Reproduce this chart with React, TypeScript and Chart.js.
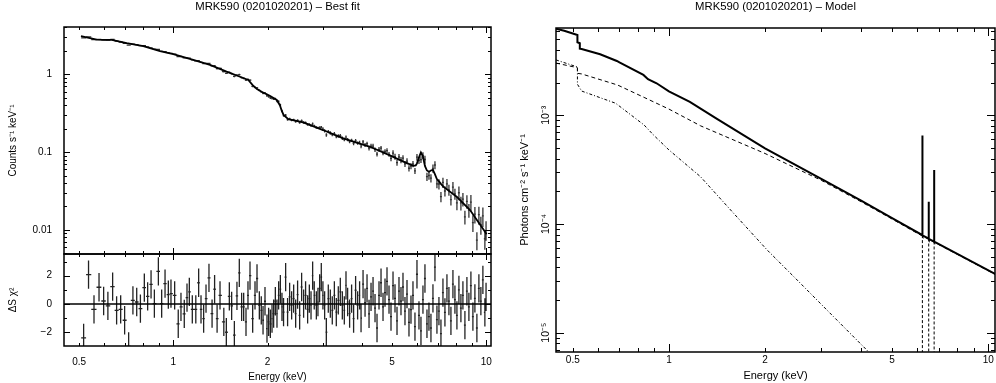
import React, { useEffect, useRef } from "react";
import { Chart, registerables } from "chart.js";

Chart.register(...registerables);

const FONT = "'Liberation Sans', Arial, Helvetica, sans-serif";

// ---------- Left panel: folded spectrum (counts) and residuals ----------
const energy = [
  0.517, 0.536, 0.558, 0.579, 0.599, 0.618, 0.640, 0.659, 0.679, 0.699, 0.720, 0.743, 0.764, 0.785, 0.808, 0.828,
  0.849, 0.870, 0.896, 0.918, 0.941, 0.964, 0.983, 1.010, 1.037, 1.058, 1.084, 1.106, 1.125, 1.150, 1.180, 1.205,
  1.226, 1.250, 1.272, 1.300, 1.330,
  1.355, 1.380, 1.410, 1.450, 1.477, 1.510, 1.536, 1.567, 1.597, 1.625, 1.653, 1.678, 1.707, 1.732, 1.758, 1.793,
  1.824, 1.851, 1.883, 1.910, 1.935, 1.963, 1.992, 2.016, 2.042, 2.067, 2.092, 2.118, 2.144, 2.170, 2.198, 2.224,
  2.250, 2.285, 2.318, 2.353, 2.388, 2.424, 2.460, 2.495, 2.533, 2.570, 2.608, 2.646, 2.686, 2.720, 2.754, 2.787,
  2.820, 2.864, 2.898, 2.934, 2.970, 3.006, 3.044, 3.082, 3.127, 3.174, 3.220, 3.270, 3.317, 3.366, 3.416, 3.467,
  3.518, 3.562, 3.605, 3.658, 3.712, 3.767, 3.823, 3.880, 3.937,
  3.979, 4.038, 4.098, 4.158, 4.220, 4.282, 4.346, 4.410, 4.475, 4.541, 4.609, 4.677, 4.746, 4.816, 4.888, 4.960,
  5.034, 5.108, 5.184, 5.260, 5.338, 5.417, 5.497, 5.579, 5.661, 5.745, 5.830, 5.916, 6.004, 6.093, 6.183, 6.274,
  6.367, 6.462, 6.557, 6.654, 6.753, 6.853, 6.954, 7.057, 7.162, 7.268, 7.375, 7.485, 7.595, 7.708, 7.822, 7.938,
  8.055, 8.174, 8.295, 8.418, 8.543, 8.669, 8.797, 8.928, 9.060, 9.194, 9.330, 9.468, 9.608, 9.750, 9.894, 9.980,
];

const counts = [
  2.93, 3.02, 2.79, 2.81, 2.77, 2.75, 2.80, 2.66, 2.60, 2.50, 2.37, 2.44, 2.40, 2.33, 2.33, 2.24,
  2.19, 2.10, 2.09, 1.97, 1.96, 1.90, 1.86, 1.81, 1.69, 1.69, 1.63, 1.62, 1.61, 1.53, 1.49, 1.50,
  1.42, 1.37, 1.38, 1.38, 1.28,
  1.28, 1.18, 1.19, 1.08, 1.03, 1.06, 1.02, 0.94, 0.976, 0.99, 0.907, 0.886, 0.840, 0.861, 0.84, 0.70,
  0.68, 0.67, 0.62, 0.593, 0.568, 0.573, 0.529, 0.516, 0.499, 0.491, 0.483, 0.483, 0.454, 0.449, 0.404, 0.338,
  0.294, 0.299, 0.262, 0.267, 0.258, 0.259, 0.247, 0.256, 0.239, 0.253, 0.240, 0.239, 0.226, 0.2276, 0.2197, 0.2316,
  0.217, 0.2068, 0.2047, 0.2075, 0.2092, 0.1983, 0.1875, 0.1661, 0.1835, 0.1759, 0.1677, 0.1722, 0.1586, 0.1614, 0.1621, 0.1509,
  0.1452, 0.1558, 0.145, 0.1366, 0.1414, 0.1291, 0.1402, 0.1305, 0.1328,
  0.1195, 0.1353, 0.1232, 0.1282, 0.1123, 0.1195, 0.1196, 0.1074, 0.0942, 0.1086, 0.1122, 0.0976, 0.1019, 0.1045, 0.0935, 0.0828,
  0.0970, 0.0874, 0.0732, 0.0864, 0.0791, 0.0838, 0.0705, 0.0764, 0.0620, 0.0660, 0.0703, 0.0574, 0.0859, 0.0782, 0.0802, 0.0906,
  0.0803, 0.0483, 0.0500, 0.0462, 0.0618, 0.0682, 0.0391, 0.0389, 0.0267, 0.0407, 0.0316, 0.0390, 0.0327, 0.0245, 0.0355, 0.0291,
  0.0223, 0.0300, 0.0222, 0.0249, 0.0147, 0.0233, 0.0179, 0.0227, 0.0124, 0.0159, 0.0074, 0.0157, 0.0117, 0.0151, 0.0077, 0.0101,
];

const countsRelErr = [
  0.015, 0.015, 0.015, 0.015, 0.015, 0.015, 0.015, 0.015, 0.015, 0.015, 0.015, 0.015, 0.015, 0.015, 0.015, 0.015,
  0.015, 0.015, 0.015, 0.015, 0.015, 0.015, 0.015, 0.02, 0.02, 0.02, 0.02, 0.02, 0.02, 0.02, 0.02, 0.02,
  0.02, 0.02, 0.02, 0.02, 0.02,
  0.025, 0.025, 0.025, 0.025, 0.025, 0.025, 0.025, 0.025, 0.025, 0.025, 0.025, 0.025, 0.025, 0.025, 0.025, 0.025,
  0.025, 0.025, 0.025, 0.025, 0.025, 0.025, 0.025, 0.035, 0.035, 0.035, 0.035, 0.035, 0.035, 0.035, 0.035, 0.035,
  0.035, 0.035, 0.035, 0.035, 0.035, 0.035, 0.035, 0.035, 0.035, 0.035, 0.035, 0.035, 0.035, 0.035, 0.035, 0.035,
  0.035, 0.035, 0.035, 0.035, 0.035, 0.05, 0.05, 0.05, 0.05, 0.05, 0.05, 0.05, 0.05, 0.05, 0.05, 0.05,
  0.05, 0.05, 0.05, 0.05, 0.05, 0.05, 0.05, 0.05, 0.05,
  0.06, 0.06, 0.06, 0.06, 0.07, 0.07, 0.07, 0.07, 0.07, 0.07, 0.07, 0.07, 0.07, 0.07, 0.07, 0.08,
  0.09, 0.09, 0.09, 0.09, 0.09, 0.09, 0.09, 0.09, 0.09, 0.09, 0.09, 0.09, 0.10, 0.10, 0.10, 0.10,
  0.12, 0.12, 0.12, 0.12, 0.12, 0.12, 0.12, 0.15, 0.15, 0.15, 0.15, 0.16, 0.16, 0.16, 0.16, 0.16,
  0.20, 0.20, 0.20, 0.20, 0.20, 0.20, 0.20, 0.24, 0.24, 0.24, 0.26, 0.26, 0.26, 0.28, 0.28, 0.28,
];

const resid = [
  -2.4, 2.07, -0.38, 1.18, 0.21, -0.14, 1.22, -0.45, -0.38, -1.15, -3.0, 0.26, 0.14, -0.33, 1.15, 0.54,
  1.39, 0.02, 2.3, 0.02, 1.44, 0.66, 0.73, 0.6, -1.4, -0.2, -0.7, 0.45, 0.85, -0.38, -0.38, 1.5,
  -0.38, -1.04, 0.38, 1.84, -0.68,
  1.04, -1.04, 0.6, -1.27, -2.0, 0.54, -0.14, -2.2, 0.57, 2.2, -0.2, -0.2, -1.27, 0.6, 2.0, -1.04,
  0.6, 1.8, -0.1, -0.45, -1.15, 0.19, -1.74, -1.27, -1.4, -1.04, -0.68, 0.19, -0.68, 0.6, 1.04, -0.2,
  -0.57, 1.9, -0.57, 0.5, -0.1, 0.38, -0.68, 0.66, -0.8, 1.2, 0.02, 0.6, -0.38, 0.38, -0.1, 2.0,
  0.6, -0.1, 0.14, 1.1, 1.9, 0.6, -0.1, -2.0, 0.38, 0.02, -0.45, 0.6, -0.57, 0.26, 0.85, -0.1,
  -0.45, 1.32, 0.14, -0.68, 0.38, -1.04, 0.97, -0.1, 0.6,
  -1.0, 1.4, 0.1, 1.1, -0.7, 0.5, 0.9, -0.3, -1.7, 0.6, 1.5, -0.2, 0.8, 1.6, 0.3, -0.9,
  1.3, 0.4, -1.2, 0.9, 0.2, 1.2, -0.5, 0.7, -1.3, -0.4, 0.6, -1.6, 2.1, -0.8, -1.9, 0.3,
  1.8, -1.4, -0.9, -1.7, 0.4, 2.6, -1.1, -0.5, -2.1, 0.8, -0.6, 1.1, 0.2, -1.2, 1.4, 0.3,
  -0.8, 1.0, -0.3, 0.6, -1.5, 0.9, -0.2, 1.3, -0.9, 0.4, -1.7, 1.1, 0.2, 1.7, -0.6, 0.5,
];
const residSigma = 1;

// folded best-fit model curve
const modelE = [
  0.507, 0.542, 0.569, 0.60, 0.636, 0.71, 0.802, 0.907, 1.0, 1.158, 1.31, 1.48, 1.633, 1.736, 1.79, 1.85,
  1.94, 2.04, 2.14, 2.19, 2.22, 2.25, 2.33, 2.60, 3.01, 3.49, 4.25, 4.92, 5.43, 5.85, 5.95, 6.0,
  6.09, 6.18, 6.27, 6.37, 6.46, 6.56, 6.65, 6.75, 6.85, 6.95, 7.06, 7.16, 7.29, 8.04, 8.87, 9.78, 10.02,
];
const modelCounts = [
  3.10, 2.92, 2.78, 2.76, 2.76, 2.51, 2.30, 1.99, 1.81, 1.53, 1.32, 1.08, 0.93, 0.845, 0.73, 0.645,
  0.58, 0.526, 0.467, 0.40, 0.34, 0.30, 0.265, 0.241, 0.192, 0.150, 0.117, 0.0906, 0.0753, 0.0664, 0.0675, 0.071,
  0.085, 0.099, 0.088, 0.066, 0.058, 0.056, 0.058, 0.059, 0.052, 0.045, 0.042, 0.039, 0.0359, 0.0267, 0.018, 0.0102, 0.0088,
];

// ---------- Right panel: unfolded model ----------
const totalE = [
  0.443, 0.47, 0.50, 0.517, 0.517, 0.526, 0.526, 0.533, 0.609, 0.687, 0.70, 0.832, 0.86, 0.915, 1.0, 1.163,
  1.41, 2.0, 3.0, 4.0, 5.0, 6.215, 6.22, 6.225, 6.505, 6.51, 6.515, 6.765, 6.77, 6.775, 8.0, 10.5,
];
const totalFlux = [
  6.25e-3, 6.0e-3, 5.65e-3, 5.48e-3, 4.69e-3, 4.6e-3, 4.1e-3, 4.07e-3, 3.64e-3, 3.16e-3, 3.06e-3, 2.35e-3, 2.15e-3, 1.97e-3, 1.66e-3, 1.33e-3,
  9.3e-4, 4.97e-4, 2.6e-4, 1.64e-4, 1.13e-4, 7.9e-5, 6.5e-4, 7.85e-5, 7.35e-5, 1.6e-4, 7.3e-5, 6.9e-5, 3.14e-4, 6.87e-5, 5.3e-5, 3.47e-5,
];
const powerlawE = [0.443, 0.517, 0.517, 0.533, 0.69, 0.836, 1.0, 1.256, 2.0, 3.0, 4.0, 5.0, 6.0, 8.0, 10.5];
const powerlawFlux = [3.02e-3, 2.74e-3, 2.43e-3, 2.40e-3, 1.9e-3, 1.46e-3, 1.14e-3, 8.0e-4, 4.45e-4, 2.52e-4, 1.6e-4, 1.11e-4, 8.2e-5, 5.25e-5, 3.44e-5];
const softE = [0.443, 0.517, 0.517, 0.533, 0.681, 0.836, 0.894, 1.0, 1.256, 1.596, 2.03, 2.58, 3.28, 4.17, 4.6];
const softFlux = [3.23e-3, 2.78e-3, 1.93e-3, 1.67e-3, 1.29e-3, 8.14e-4, 6.6e-4, 4.8e-4, 2.72e-4, 1.25e-4, 5.77e-5, 2.85e-5, 1.4e-5, 6.9e-6, 5.0e-6];
const lineE = [6.22, 6.51, 6.77];
const lineFlux = [7.9e-5, 7.35e-5, 6.9e-5];
const lineFloor = 1e-7;

// ---------- Ticks ----------
const xTickValues = [0.5, 1, 2, 5, 10];
const xTickText = ["0.5", "1", "2", "5", "10"];
const xMajorTicks = [1, 10];
const xMinorTicks = [0.5, 0.6, 0.7, 0.8, 0.9, 2, 3, 4, 5, 6, 7, 8, 9];
const countsTickValues = [0.01, 0.1, 1];
const countsTickText = ["0.01", "0.1", "1"];
const countsMinorTicks = [
  0.005, 0.006, 0.007, 0.008, 0.009, 0.02, 0.03, 0.04, 0.05, 0.06, 0.07, 0.08, 0.09,
  0.2, 0.3, 0.4, 0.5, 0.6, 0.7, 0.8, 0.9, 2, 3, 4,
];
const residTickValues = [-2, 0, 2];
const residTickText = ["\u22122", "0", "2"];
const residMinorTicks = [-3, -1, 1, 3];
const fluxTickValues = [1e-5, 1e-4, 1e-3];
const fluxTickText = ["10\u207B\u2075", "10\u207B\u2074", "10\u207B\u00B3"];
const fluxMinorTicks = [
  7e-6, 8e-6, 9e-6, 2e-5, 3e-5, 4e-5, 5e-5, 6e-5, 7e-5, 8e-5, 9e-5,
  2e-4, 3e-4, 4e-4, 5e-4, 6e-4, 7e-4, 8e-4, 9e-4, 2e-3, 3e-3, 4e-3, 5e-3, 6e-3,
];

// ---------- helpers ----------
function binEdges(i: number): [number, number] {
  const e = energy[i];
  const lo = i > 0 ? Math.sqrt(energy[i - 1] * e) : e * Math.sqrt(e / energy[i + 1]);
  const hi = i < energy.length - 1 ? Math.sqrt(e * energy[i + 1]) : e * Math.sqrt(e / energy[i - 1]);
  return [lo, hi];
}

type FrameCfg = {
  xMajor: number[];
  xMinor: number[];
  yMajor: number[];
  yMinor: number[];
  majorLen: number;
  minorLen: number;
  zeroLine?: boolean;
  rotLabels?: { values: number[]; texts: string[]; offset: number; size: number };
};

function makeFramePlugin(cfg: FrameCfg) {
  return {
    id: "xspecFrame",
    beforeDatasetsDraw(chart: any) {
      const { ctx, chartArea: a } = chart;
      const xs = chart.scales.x;
      const ys = chart.scales.y;
      ctx.save();
      ctx.beginPath();
      ctx.rect(a.left, a.top, a.right - a.left, a.bottom - a.top);
      ctx.clip();
      for (const ds of chart.data.datasets as any[]) {
        if (!ds.errorBars) continue;
        ctx.strokeStyle = ds.errorColor;
        ctx.lineWidth = ds.errorWidth;
        ctx.beginPath();
        for (const p of ds.data) {
          const px = xs.getPixelForValue(p.x);
          const py = ys.getPixelForValue(p.y);
          ctx.moveTo(xs.getPixelForValue(p.xLo), py);
          ctx.lineTo(xs.getPixelForValue(p.xHi), py);
          ctx.moveTo(px, ys.getPixelForValue(p.yLo));
          ctx.lineTo(px, ys.getPixelForValue(p.yHi));
        }
        ctx.stroke();
      }
      ctx.restore();
    },
    afterDraw(chart: any) {
      const { ctx, chartArea: a } = chart;
      const xs = chart.scales.x;
      const ys = chart.scales.y;
      ctx.save();
      ctx.strokeStyle = "#000";
      if (cfg.zeroLine) {
        const py = ys.getPixelForValue(0);
        ctx.lineWidth = 1.5;
        ctx.beginPath();
        ctx.moveTo(a.left, py);
        ctx.lineTo(a.right, py);
        ctx.stroke();
      }
      ctx.lineWidth = 1;
      ctx.beginPath();
      const xt = (vals: number[], len: number) =>
        vals.forEach((v) => {
          if (v < xs.min || v > xs.max) return;
          const px = Math.round(xs.getPixelForValue(v)) + 0.5;
          ctx.moveTo(px, a.bottom);
          ctx.lineTo(px, a.bottom - len);
          ctx.moveTo(px, a.top);
          ctx.lineTo(px, a.top + len);
        });
      const yt = (vals: number[], len: number) =>
        vals.forEach((v) => {
          if (v < ys.min || v > ys.max) return;
          const py = Math.round(ys.getPixelForValue(v)) + 0.5;
          ctx.moveTo(a.left, py);
          ctx.lineTo(a.left + len, py);
          ctx.moveTo(a.right, py);
          ctx.lineTo(a.right - len, py);
        });
      xt(cfg.xMajor, cfg.majorLen);
      xt(cfg.xMinor, cfg.minorLen);
      yt(cfg.yMajor, cfg.majorLen);
      yt(cfg.yMinor, cfg.minorLen);
      ctx.stroke();
      ctx.lineWidth = 1.5;
      ctx.strokeRect(a.left, a.top, a.right - a.left, a.bottom - a.top);
      if (cfg.rotLabels) {
        const r = cfg.rotLabels;
        ctx.fillStyle = "#000";
        ctx.font = `${r.size}px ${FONT}`;
        ctx.textAlign = "center";
        ctx.textBaseline = "middle";
        r.values.forEach((v, i) => {
          const py = ys.getPixelForValue(v);
          ctx.save();
          ctx.translate(a.left - r.offset, py);
          ctx.rotate(-Math.PI / 2);
          ctx.fillText(r.texts[i], 0, 0);
          ctx.restore();
        });
      }
      ctx.restore();
    },
  };
}

const baseOpts = {
  responsive: false,
  animation: false as const,
  devicePixelRatio: 1,
  events: [] as any[],
};

// tick labels are offset with an (invisible) tickLength so that they do not add layout padding
function logXScale(min: number, max: number, display: boolean, tickOffset: number, titleSize: number, height: number) {
  return {
    type: "logarithmic",
    display,
    min,
    max,
    afterBuildTicks: (s: any) => {
      s.ticks = xTickValues.map((v) => ({ value: v }));
    },
    afterFit: (s: any) => {
      s.height = height;
    },
    ticks: {
      autoSkip: false,
      maxRotation: 0,
      minRotation: 0,
      padding: 0,
      color: "#000",
      font: { family: FONT, size: 10 },
      callback: (_v: any, i: number) => xTickText[i],
    },
    grid: { display: false, drawTicks: true, tickLength: tickOffset },
    border: { display: false },
    title: {
      display: true,
      text: "Energy (keV)",
      color: "#000",
      font: { family: FONT, size: titleSize },
      padding: { top: 0, bottom: 0 },
    },
  };
}

function countsConfig(): any {
  const dataPts = energy.map((e, i) => {
    const [lo, hi] = binEdges(i);
    return {
      x: e,
      y: counts[i],
      xLo: lo,
      xHi: hi,
      yLo: counts[i] * (1 - countsRelErr[i]),
      yHi: counts[i] * (1 + countsRelErr[i]),
    };
  });
  return {
    type: "scatter",
    data: {
      datasets: [
        {
          label: "model",
          data: modelE.map((e, i) => ({ x: e, y: modelCounts[i] })),
          showLine: true,
          borderColor: "#000",
          borderWidth: 1.8,
          pointRadius: 0,
          tension: 0,
        },
        {
          label: "data",
          data: dataPts,
          errorBars: true,
          errorColor: "#333",
          errorWidth: 1.3,
          pointRadius: 0,
          showLine: false,
        },
      ],
    },
    options: {
      ...baseOpts,
      layout: { padding: { left: 0, right: 5, top: 0, bottom: 6 } },
      plugins: {
        legend: { display: false },
        tooltip: { enabled: false },
        title: {
          display: true,
          fullSize: false,
          text: "MRK590 (0201020201) \u2013 Best fit",
          color: "#000",
          font: { family: FONT, size: 11.3, weight: "normal" },
          padding: { top: 0, bottom: 13.44 },
        },
      },
      scales: {
        x: logXScale(0.4475, 10.35, false, 0, 10, 0),
        y: {
          type: "logarithmic",
          min: 0.0049,
          max: 4.05,
          afterBuildTicks: (s: any) => {
            s.ticks = countsTickValues.map((v) => ({ value: v }));
          },
          afterFit: (s: any) => {
            s.width = 64;
          },
          ticks: {
            autoSkip: false,
            padding: 0,
            color: "#000",
            font: { family: FONT, size: 10 },
            callback: (_v: any, i: number) => countsTickText[i],
          },
          grid: { display: false, drawTicks: true, tickLength: 12 },
          border: { display: false },
          title: {
            display: true,
            text: "Counts s\u207B\u00B9 keV\u207B\u00B9",
            color: "#000",
            font: { family: FONT, size: 10 },
            padding: { top: 7.5, bottom: 0 },
          },
        },
      },
    },
    plugins: [
      makeFramePlugin({
        xMajor: xMajorTicks,
        xMinor: xMinorTicks,
        yMajor: countsTickValues,
        yMinor: countsMinorTicks,
        majorLen: 6,
        minorLen: 3,
      }),
    ],
  };
}

function residConfig(): any {
  const dataPts = energy.map((e, i) => {
    const [lo, hi] = binEdges(i);
    return {
      x: e,
      y: resid[i],
      xLo: lo,
      xHi: hi,
      yLo: resid[i] - residSigma,
      yHi: resid[i] + residSigma,
    };
  });
  return {
    type: "scatter",
    data: {
      datasets: [
        {
          label: "residuals",
          data: dataPts,
          errorBars: true,
          errorColor: "#222",
          errorWidth: 1.3,
          pointRadius: 0,
          showLine: false,
        },
      ],
    },
    options: {
      ...baseOpts,
      layout: { padding: { left: 0, right: 5, top: 6, bottom: 0 } },
      plugins: { legend: { display: false }, tooltip: { enabled: false }, title: { display: false } },
      scales: {
        x: logXScale(0.4475, 10.35, true, 10, 10, 37),
        y: {
          type: "linear",
          min: -2.97,
          max: 3.53,
          afterBuildTicks: (s: any) => {
            s.ticks = residTickValues.map((v) => ({ value: v }));
          },
          afterFit: (s: any) => {
            s.width = 64;
          },
          ticks: {
            autoSkip: false,
            padding: 0,
            color: "#000",
            font: { family: FONT, size: 10 },
            callback: (_v: any, i: number) => residTickText[i],
          },
          grid: { display: false, drawTicks: true, tickLength: 12 },
          border: { display: false },
          title: {
            display: true,
            text: "\u0394S \u03C7\u00B2",
            color: "#000",
            font: { family: FONT, size: 10 },
            padding: { top: 7, bottom: 0 },
          },
        },
      },
    },
    plugins: [
      makeFramePlugin({
        xMajor: xMajorTicks,
        xMinor: xMinorTicks,
        yMajor: residTickValues,
        yMinor: residMinorTicks,
        majorLen: 6,
        minorLen: 3,
        zeroLine: true,
      }),
    ],
  };
}

function modelConfig(): any {
  const toPts = (xs: number[], ys: number[]) => xs.map((x, i) => ({ x, y: ys[i] }));
  const lineSets = lineE.map((e, i) => ({
    label: `gaussian ${i + 1}`,
    data: [
      { x: e, y: lineFlux[i] },
      { x: e, y: lineFloor },
    ],
    showLine: true,
    borderColor: "#000",
    borderWidth: 1,
    borderDash: [3, 2],
    pointRadius: 0,
  }));
  return {
    type: "scatter",
    data: {
      datasets: [
        {
          label: "total",
          data: toPts(totalE, totalFlux),
          showLine: true,
          borderColor: "#000",
          borderWidth: 2,
          pointRadius: 0,
          tension: 0,
        },
        {
          label: "powerlaw",
          data: toPts(powerlawE, powerlawFlux),
          showLine: true,
          borderColor: "#000",
          borderWidth: 1,
          borderDash: [4, 3],
          pointRadius: 0,
          tension: 0,
        },
        {
          label: "soft",
          data: toPts(softE, softFlux),
          showLine: true,
          borderColor: "#000",
          borderWidth: 1,
          borderDash: [3, 2, 1, 2],
          pointRadius: 0,
          tension: 0,
        },
        ...lineSets,
      ],
    },
    options: {
      ...baseOpts,
      layout: { padding: { left: 0, right: 1, top: 0, bottom: 0 } },
      plugins: {
        legend: { display: false },
        tooltip: { enabled: false },
        title: {
          display: true,
          fullSize: false,
          text: "MRK590 (0201020201) \u2013 Model",
          color: "#000",
          font: { family: FONT, size: 11.3, weight: "normal" },
          padding: { top: 0, bottom: 14.44 },
        },
      },
      scales: {
        x: logXScale(0.443, 10.5, true, 2, 11, 31),
        y: {
          type: "logarithmic",
          min: 6.64e-6,
          max: 6.35e-3,
          afterFit: (s: any) => {
            s.width = 56;
          },
          ticks: { display: false },
          grid: { display: false, drawTicks: false },
          border: { display: false },
          title: {
            display: true,
            text: "Photons cm\u207B\u00B2 s\u207B\u00B9 keV\u207B\u00B9",
            color: "#000",
            font: { family: FONT, size: 11 },
            padding: { top: 18.4, bottom: 0 },
          },
        },
      },
    },
    plugins: [
      makeFramePlugin({
        xMajor: xMajorTicks,
        xMinor: xMinorTicks,
        yMajor: fluxTickValues,
        yMinor: fluxMinorTicks,
        majorLen: 8,
        minorLen: 4,
        rotLabels: { values: fluxTickValues, texts: fluxTickText, offset: 10, size: 10.5 },
      }),
    ],
  };
}

function ChartCanvas(props: { left: number; top: number; width: number; height: number; make: () => any }) {
  const ref = useRef<HTMLCanvasElement>(null);
  useEffect(() => {
    const chart = new Chart(ref.current as HTMLCanvasElement, props.make());
    return () => chart.destroy();
  }, []);
  return (
    <canvas
      ref={ref}
      width={props.width}
      height={props.height}
      style={{
        position: "absolute",
        left: props.left,
        top: props.top,
        width: props.width,
        height: props.height,
      }}
    />
  );
}

export default function App() {
  return (
    <div
      style={{
        position: "fixed",
        left: 0,
        top: 0,
        width: 996,
        height: 383,
        background: "#fff",
        overflow: "hidden",
      }}
    >
      <ChartCanvas left={0} top={0} width={496} height={260} make={countsConfig} />
      <ChartCanvas left={0} top={248} width={496} height={135} make={residConfig} />
      <ChartCanvas left={500} top={0} width={496} height={383} make={modelConfig} />
    </div>
  );
}
